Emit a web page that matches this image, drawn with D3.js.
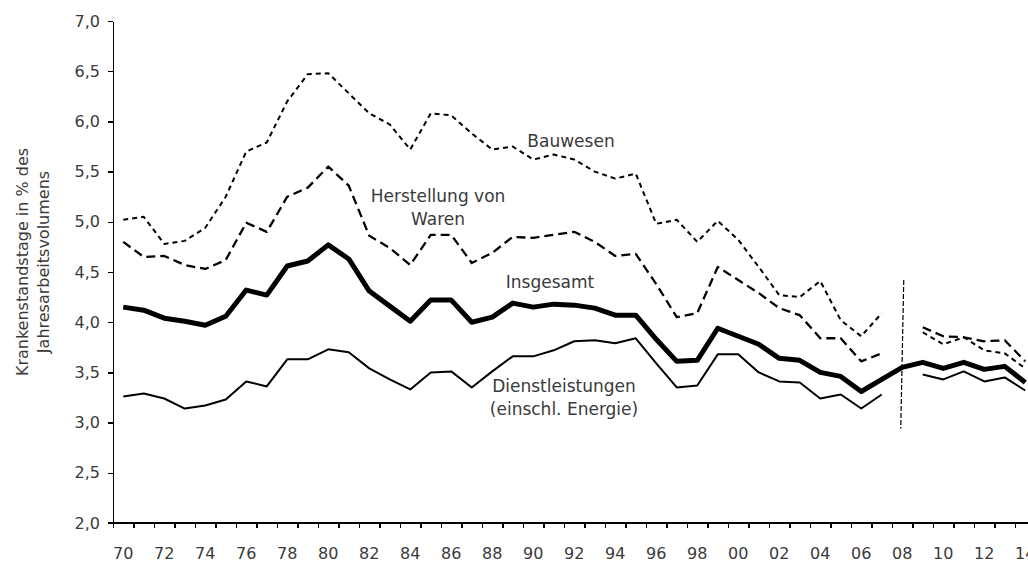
<!DOCTYPE html>
<meta charset="utf-8">
<style>

body {
  margin: 0;
  background: #fff;
}

text {
  font-family: "DejaVu Sans", sans-serif;
  fill: #3a3a3a;
}

.axis path,
.axis line {
  stroke: #000;
  stroke-width: 1.3px;
  shape-rendering: crispEdges;
}

.axis text {
  font-size: 16px;
}

.line {
  fill: none;
  stroke: #000;
  stroke-linejoin: round;
}

.label {
  font-size: 17px;
  text-anchor: middle;
}

</style>
<body>
<script src="https://d3js.org/d3.v7.min.js"></script>
<script>

var years = d3.range(1970, 2015);

var bauwesen = [5.02, 5.05, 4.78, 4.81, 4.94, 5.25, 5.70, 5.79, 6.20, 6.47,
                6.48, 6.28, 6.08, 5.97, 5.72, 6.08, 6.06, 5.88, 5.72, 5.75,
                5.62, 5.67, 5.62, 5.50, 5.43, 5.48, 4.98, 5.02, 4.80, 5.01,
                4.82, 4.55, 4.27, 4.25, 4.41, 4.02, 3.86, 4.09, null, 3.90,
                3.78, 3.85, 3.72, 3.69, 3.54];

var herstellung = [4.80, 4.65, 4.66, 4.57, 4.53, 4.62, 4.99, 4.90, 5.25, 5.34,
                   5.55, 5.36, 4.86, 4.74, 4.57, 4.87, 4.87, 4.59, 4.69, 4.85,
                   4.84, 4.87, 4.90, 4.80, 4.66, 4.68, 4.38, 4.05, 4.09, 4.55,
                   4.42, 4.29, 4.14, 4.07, 3.84, 3.84, 3.61, 3.69, null, 3.95,
                   3.86, 3.85, 3.81, 3.82, 3.61];

var insgesamt = [4.15, 4.12, 4.04, 4.01, 3.97, 4.06, 4.32, 4.27, 4.56, 4.61,
                 4.77, 4.63, 4.31, 4.16, 4.01, 4.22, 4.22, 4.00, 4.05, 4.19,
                 4.15, 4.18, 4.17, 4.14, 4.07, 4.07, 3.83, 3.61, 3.62, 3.94,
                 3.86, 3.78, 3.64, 3.62, 3.50, 3.46, 3.31, 3.43, 3.55, 3.60,
                 3.54, 3.60, 3.53, 3.56, 3.40];

var dienst = [3.26, 3.29, 3.24, 3.14, 3.17, 3.23, 3.41, 3.36, 3.63, 3.63,
              3.73, 3.70, 3.54, 3.43, 3.33, 3.50, 3.51, 3.35, 3.51, 3.66,
              3.66, 3.72, 3.81, 3.82, 3.79, 3.84, 3.59, 3.35, 3.37, 3.68,
              3.68, 3.50, 3.41, 3.40, 3.24, 3.28, 3.14, 3.28, null, 3.48,
              3.43, 3.51, 3.41, 3.45, 3.32];

var yTicks = [2, 2.5, 3, 3.5, 4, 4.5, 5, 5.5, 6, 6.5, 7];
var breakYear = 2008,
    breakRange = [2.94, 4.42];

var w = 1028,
    h = 563,
    plotLeft = 113,
    step = 20.5,
    plotTop = 21,
    plotBottom = 523;

var svg = d3.select("body").append("svg")
    .attr("width", w)
    .attr("height", h);

var x = d3.scaleLinear()
    .domain([1969.5, 2014.5])
    .range([plotLeft, plotLeft + step * 45]);

var y = d3.scaleLinear()
    .domain([2, 7])
    .range([plotBottom, plotTop]);

var comma = d3.formatLocale({decimal: ",", thousands: ".", grouping: [3], currency: ["", "€"]}).format(".1f");

// x axis: ticks between the years, labels every second year
svg.append("g")
    .attr("class", "axis")
    .attr("transform", "translate(0," + plotBottom + ")")
    .call(d3.axisBottom(x)
      .tickValues(d3.range(1969.5, 2015, 1))
      .tickSize(5)
      .tickSizeOuter(0)
      .tickFormat(""))
  .select(".domain")
    .attr("d", "M" + (plotLeft - 5) + ",0H" + w);

svg.append("g")
    .selectAll("text")
    .data(years.filter(function(d) { return d % 2 == 0; }))
  .enter().append("text")
    .attr("x", function(d) { return x(d); })
    .attr("y", 559)
    .attr("text-anchor", "middle")
    .style("font-size", "16px")
    .text(function(d) { return d3.format("02")(d % 100); });

svg.append("g")
    .attr("class", "axis")
    .attr("transform", "translate(" + plotLeft + ",0)")
    .call(d3.axisLeft(y)
      .tickValues(yTicks)
      .tickSize(5)
      .tickSizeOuter(0)
      .tickPadding(8)
      .tickFormat(comma));

// y title
var title = svg.append("text")
    .attr("transform", "translate(0,262) rotate(-90)")
    .attr("text-anchor", "middle")
    .style("font-size", "16px");

title.append("tspan").attr("x", 0).attr("y", 28).text("Krankenstandstage in % des");
title.append("tspan").attr("x", 0).attr("y", 49).text("Jahresarbeitsvolumens");

var line = d3.line()
    .defined(function(d) { return d.v != null; })
    .x(function(d) { return x(d.year); })
    .y(function(d) { return y(d.v); });

function pairs(values) {
  return years.map(function(yr, i) { return {year: yr, v: values[i]}; });
}

var series = [
  {values: dienst, width: 2, dash: null},
  {values: herstellung, width: 2.3, dash: "9,5"},
  {values: bauwesen, width: 2, dash: "5,4"},
  {values: insgesamt, width: 5, dash: null}
];

svg.selectAll(".line")
    .data(series)
  .enter().append("path")
    .attr("class", "line")
    .attr("d", function(d) { return line(pairs(d.values)); })
    .style("stroke-width", function(d) { return d.width; })
    .style("stroke-dasharray", function(d) { return d.dash; });

// break marker at the 2008 revision
svg.append("line")
    .attr("x1", x(breakYear) + 1.5)
    .attr("y1", y(breakRange[1]))
    .attr("x2", x(breakYear) - 1.5)
    .attr("y2", y(breakRange[0]))
    .attr("stroke", "#000")
    .attr("stroke-width", 1.2)
    .attr("stroke-dasharray", "5,2");

var labels = [
  {text: ["Bauwesen"], x: 571, y: 147},
  {text: ["Herstellung von", "Waren"], x: 438, y: 202},
  {text: ["Insgesamt"], x: 550, y: 288},
  {text: ["Dienstleistungen", "(einschl. Energie)"], x: 564, y: 392}
];

labels.forEach(function(l) {
  var t = svg.append("text")
      .attr("class", "label");
  l.text.forEach(function(s, i) {
    t.append("tspan")
      .attr("x", l.x)
      .attr("y", l.y + i * 23)
      .text(s);
  });
});

</script>
</body>
